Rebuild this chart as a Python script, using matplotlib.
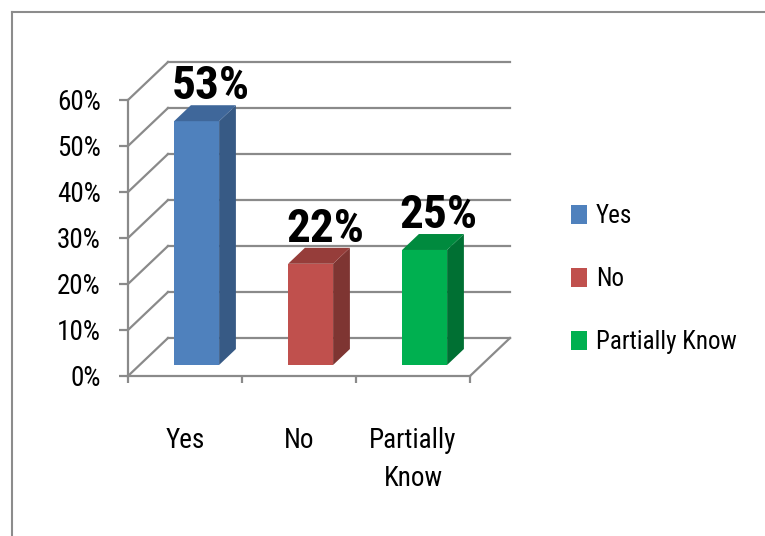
import matplotlib
matplotlib.use("Agg")
import matplotlib.pyplot as plt
from matplotlib import font_manager
from matplotlib.patches import Polygon, Patch
from matplotlib.lines import Line2D

# data
categories = ["Yes", "No", "Partially\nKnow"]
legend_labels = ["Yes", "No", "Partially Know"]
values = [0.53, 0.22, 0.25]
value_labels = ["53%", "22%", "25%"]
y_ticks = [0.0, 0.1, 0.2, 0.3, 0.4, 0.5, 0.6]
y_tick_labels = ["0%", "10%", "20%", "30%", "40%", "50%", "60%"]

front_colors = ["#4F81BD", "#C0504D", "#00B050"]
side_colors = ["#375A85", "#7E3532", "#007033"]
top_colors = ["#3F679A", "#963D3A", "#008A3E"]

# pick a narrow font if one exists (the original uses Calibri)
fonts = [(f.name, f.stretch) for f in font_manager.fontManager.ttflist]
narrow = None
for name in ["Liberation Sans Narrow", "Roboto Condensed",
             "Open Sans Condensed", "Noto Sans Condensed"]:
    if any(n == name for n, _ in fonts):
        narrow = (name, "normal")
        break
if narrow is None:
    for name in ["Noto Sans", "Open Sans", "Roboto", "DejaVu Sans"]:
        if any(n == name and s in ("condensed", "semi-condensed")
               for n, s in fonts):
            narrow = (name, "condensed")
            break
if narrow is None:
    narrow = ("Liberation Sans", "normal")
    scale = 0.85
else:
    scale = 1.0
plt.rcParams['font.family'] = [narrow[0], 'DejaVu Sans']
plt.rcParams['font.stretch'] = narrow[1]

W, H = 765, 536
fig = plt.figure(figsize=(W / 100, H / 100), dpi=100)
fig.patch.set_facecolor("white")

# front plane of the plot area, in pixels
x0, x1, y0, y1 = 128, 470, 376, 100
ax = fig.add_axes([x0 / W, 1 - y0 / H, (x1 - x0) / W, (y0 - y1) / H])
ax.set_xlim(-0.5, 2.5)
ax.set_ylim(0, 0.6)
ax.patch.set_alpha(0)

# depth of the 3d box in data units (40 px right, 38 px up)
px_x = (x1 - x0) / 3.0
px_y = (y0 - y1) / 0.6
ddx, ddy = 40 / px_x, 38 / px_y

grid_kw = dict(color="#8a8a8a", lw=1.6, clip_on=False, zorder=1)
for v in y_ticks:
    ax.plot([-0.5, -0.5 + ddx], [v, v + ddy], **grid_kw)
    ax.plot([-0.5 + ddx, 2.5 + ddx], [v + ddy, v + ddy], **grid_kw)
ax.plot([2.5, 2.5 + ddx], [0, ddy], **grid_kw)

# bars with side and top faces
w = 45 / px_x
f0, fd = 0.29, 0.42
bdx, bdy = fd * ddx, fd * ddy
base = f0 * ddy
xs = [i + f0 * ddx for i in range(len(values))]
ax.bar(xs, values, width=w, bottom=base, color=front_colors, zorder=3,
       clip_on=False)
for x, v, sc, tc, lab in zip(xs, values, side_colors, top_colors, value_labels):
    xl, xr = x - w / 2, x + w / 2
    top = base + v
    ax.add_patch(Polygon([(xr, base), (xr, top), (xr + bdx, top + bdy),
                          (xr + bdx, base + bdy)], closed=True, fc=sc,
                         ec="none", zorder=3, clip_on=False))
    ax.add_patch(Polygon([(xl, top), (xr, top), (xr + bdx, top + bdy),
                          (xl + bdx, top + bdy)], closed=True, fc=tc,
                         ec="none", zorder=3, clip_on=False))
    ax.annotate(lab, (x + bdx * 0.85, top + bdy), xytext=(0, -2),
                textcoords="offset points", ha="center", va="bottom",
                fontsize=34 * scale, fontweight="bold", color="black",
                zorder=4, annotation_clip=False)

# axes
for s in ["top", "right"]:
    ax.spines[s].set_visible(False)
for s in ["left", "bottom"]:
    ax.spines[s].set_color("#8a8a8a")
    ax.spines[s].set_linewidth(1.6)
    ax.spines[s].set_zorder(2)

ax.set_yticks(y_ticks)
ax.set_yticklabels(y_tick_labels, fontsize=19.5 * scale)
ax.tick_params(axis="y", direction="out", length=6.5, width=1.6,
               color="#8a8a8a", pad=13)

ax.set_xticks(range(len(categories)))
ax.set_xticklabels(categories, fontsize=19.5 * scale)
ax.set_xticks([-0.5, 0.5, 1.5, 2.5], minor=True)
ax.tick_params(axis="x", which="major", length=0, pad=37)
ax.tick_params(axis="x", which="minor", direction="out", length=5,
               width=1.6, color="#8a8a8a")
for t in ax.get_xticklabels():
    t.set_linespacing(1.5)

# legend
handles = [Patch(facecolor=c, edgecolor="none") for c in front_colors]
fig.legend(handles, legend_labels, loc="center left",
           bbox_to_anchor=(571 / W, 1 - 279 / H), frameon=False,
           fontsize=18 * scale, handlelength=0.65, handleheight=0.8,
           handletextpad=0.35, labelspacing=1.55 / scale, borderpad=0,
           borderaxespad=0)

# outer frame
fig.add_artist(Line2D([12 / W, 1], [1 - 12 / H, 1 - 12 / H],
                      transform=fig.transFigure, color="#8c8c8c", lw=1.5))
fig.add_artist(Line2D([12 / W, 12 / W], [0, 1 - 12 / H],
                      transform=fig.transFigure, color="#8c8c8c", lw=1.5))

fig.savefig("out.png", dpi=100)
